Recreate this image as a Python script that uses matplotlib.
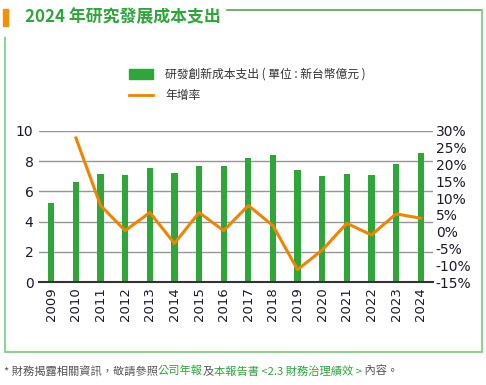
import matplotlib
matplotlib.use("Agg")
import matplotlib.pyplot as plt
from matplotlib.patches import Rectangle
from matplotlib.lines import Line2D
import numpy as np

plt.rcParams['font.family'] = ['Noto Sans CJK TC', 'DejaVu Sans']

years = ['2009', '2010', '2011', '2012', '2013', '2014', '2015', '2016',
         '2017', '2018', '2019', '2020', '2021', '2022', '2023', '2024']
rd_cost = [5.22, 6.6, 7.14, 7.08, 7.54, 7.2, 7.67, 7.67,
           8.2, 8.4, 7.4, 7.0, 7.13, 7.07, 7.8, 8.53]
growth = [None, 27.9, 7.8, 0.3, 5.7, -3.5, 5.7, 0.3,
          7.8, 1.8, -11.3, -5.5, 2.5, -1.0, 5.3, 4.0]

title = '2024 年研究發展成本支出'
legend_bar = '研發創新成本支出 ( 單位 : 新台幣億元 )'
legend_line = '年增率'

GREEN = '#2ea63a'
ORANGE = '#f08400'

W, H = 486, 385
fig = plt.figure(figsize=(W / 100, H / 100), dpi=100)

def fx(px):
    return px / W

def fy(py):
    return 1 - py / H

ax = fig.add_axes([fx(39), fy(282), fx(433) - fx(39), fy(131) - fy(282)])
x = np.arange(len(years))
ax.bar(x, rd_cost, width=0.25, color=GREEN, zorder=3)
ax.set_xlim(-0.5, len(years) - 0.5)
ax.set_ylim(0, 10)
ax.set_yticks([0, 2, 4, 6, 8, 10])
ax.set_xticks(x)
ax.set_xticklabels(years, rotation=90, fontsize=9.5, family='DejaVu Sans', color='#1a1a2a')
ax.tick_params(axis='both', length=0, pad=4)
ax.tick_params(axis='y', labelsize=10, labelcolor='#1a1a2a')
for lab in ax.get_yticklabels():
    lab.set_family('DejaVu Sans')
ax.grid(axis='y', color='#959595', linewidth=1.0, zorder=0)
for s in ['top', 'right', 'left']:
    ax.spines[s].set_visible(False)
ax.spines['bottom'].set_color('#333333')
ax.spines['bottom'].set_linewidth(1.5)
ax.spines['bottom'].set_zorder(4)

ax2 = ax.twinx()
gx = [i for i, g in enumerate(growth) if g is not None]
gy = [g for g in growth if g is not None]
ax2.plot(gx, gy, color=ORANGE, linewidth=2.2, zorder=5)
ax2.set_ylim(-15, 30)
ax2.set_yticks(np.arange(-15, 31, 5))
ax2.set_yticklabels([f'{v}%' for v in range(-15, 31, 5)], fontsize=10,
                    family='DejaVu Sans', color='#1a1a2a')
ax2.tick_params(axis='y', length=0, pad=2)
for s in ax2.spines.values():
    s.set_visible(False)

# Title and frame
fig.patches.append(Rectangle((fx(3), fy(26)), fx(8) - fx(3), fy(9) - fy(26),
                             transform=fig.transFigure, color='#f39200', zorder=1))
fig.text(fx(25), fy(17), title, fontsize=12.2, fontweight='bold', color=GREEN,
         va='center', ha='left')
light = '#8fd28f'
fig.lines.append(Line2D([fx(227), fx(482)], [fy(10), fy(10)], transform=fig.transFigure,
                        color='#4aad4a', linewidth=1.2))
fig.lines.append(Line2D([fx(482), fx(482)], [fy(10), fy(352)], transform=fig.transFigure,
                        color=light, linewidth=1.5))
fig.lines.append(Line2D([fx(5), fx(482)], [fy(352), fy(352)], transform=fig.transFigure,
                        color=light, linewidth=1.5))
fig.lines.append(Line2D([fx(5), fx(5)], [fy(38), fy(352)], transform=fig.transFigure,
                        color=light, linewidth=1.5))

# Legend
fig.patches.append(Rectangle((fx(129), fy(79)), fx(153) - fx(129), fy(69) - fy(79),
                             transform=fig.transFigure, color=GREEN))
fig.text(fx(165), fy(74), legend_bar, fontsize=8.5, color='#333333', va='center', ha='left')
fig.lines.append(Line2D([fx(129), fx(153)], [fy(95), fy(95)], transform=fig.transFigure,
                        color=ORANGE, linewidth=2))
fig.text(fx(165), fy(96), legend_line, fontsize=8.5, color='#333333', va='center', ha='left')

# Footnote with mixed colours
parts = [('* 財務揭露相關資訊，敬請參照', '#555555'), ('公司年報', GREEN),
         ('及', '#555555'), ('本報告書 <2.3 財務治理績效 >', GREEN), (' 內容。', '#555555')]
fig.canvas.draw()
renderer = fig.canvas.get_renderer()
xpos = fx(4)
for txt, col in parts:
    t = fig.text(xpos, fy(371), txt, fontsize=8.1, color=col, va='center', ha='left')
    bb = t.get_window_extent(renderer=renderer)
    xpos += bb.width / W

fig.savefig('out.png', dpi=100)
